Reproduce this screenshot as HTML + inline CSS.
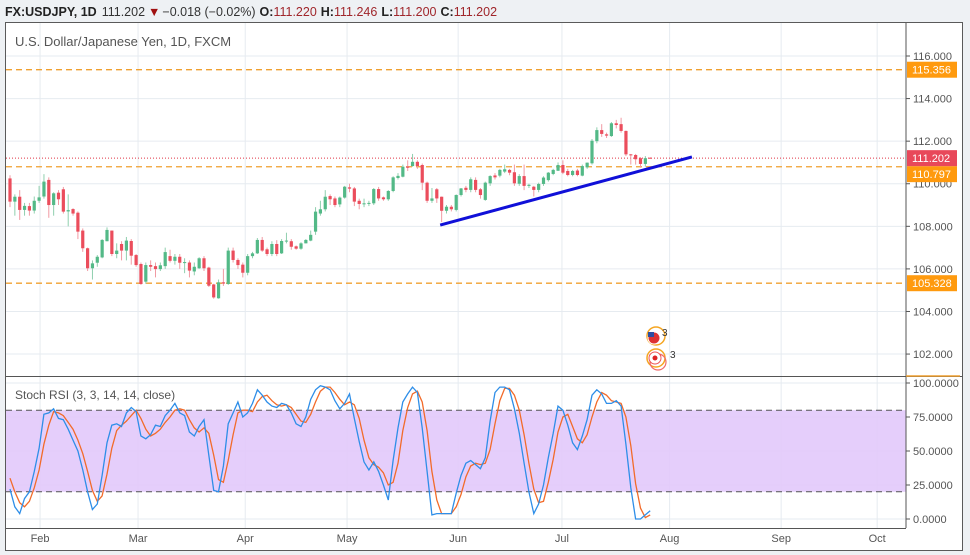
<!DOCTYPE html>
<html><head><meta charset="utf-8"><style>
html,body{margin:0;padding:0;background:#eef1f4;width:970px;height:555px;overflow:hidden;font-family:"Liberation Sans",sans-serif;}
svg{display:block}
</style></head><body>
<svg id="chart" width="970" height="555" viewBox="0 0 970 555" xmlns="http://www.w3.org/2000/svg">
<rect x="0" y="0" width="970" height="555" fill="#eef1f4"/>
<text x="5" y="16" font-size="12.5" font-family="Liberation Sans, sans-serif"><tspan font-weight="bold" fill="#222">FX:USDJPY, 1D</tspan><tspan fill="#333" dx="5">111.202</tspan><tspan fill="#a01010" dx="3">▼</tspan><tspan fill="#333" dx="2">−0.018 (−0.02%)</tspan><tspan font-weight="bold" fill="#222" dx="4">O:</tspan><tspan fill="#a0262b">111.220</tspan><tspan font-weight="bold" fill="#222" dx="4">H:</tspan><tspan fill="#a0262b">111.246</tspan><tspan font-weight="bold" fill="#222" dx="4">L:</tspan><tspan fill="#a0262b">111.200</tspan><tspan font-weight="bold" fill="#222" dx="4">C:</tspan><tspan fill="#a0262b">111.202</tspan></text>
<rect x="5.5" y="22.5" width="957" height="528" fill="#fff" stroke="#5a5a5a"/>
<g id="grid"></g>
<g id="stochfill"></g>
<g id="levels"></g>
<g id="candles"></g>
<g id="stoch"></g>
<g id="axes"></g>
<text x="15" y="46" font-size="13" fill="#555" font-family="Liberation Sans, sans-serif">U.S. Dollar/Japanese Yen, 1D, FXCM</text>
<text x="15" y="399" font-size="12" fill="#555" font-family="Liberation Sans, sans-serif">Stoch RSI (3, 3, 14, 14, close)</text>
<g>
<circle cx="656" cy="336" r="9" fill="none" stroke="#f5a623" stroke-width="1.5"/>
<circle cx="654" cy="338" r="6" fill="#d33" stroke="#fff"/>
<rect x="648" y="332" width="6" height="5" fill="#2d4ea3"/>
<text x="662" y="336" font-size="10" fill="#333">3</text>
<circle cx="656" cy="358" r="9" fill="none" stroke="#f5a623" stroke-width="1.5"/>
<circle cx="658" cy="362" r="8" fill="none" stroke="#f06a6a" stroke-width="1.2"/>
<circle cx="655" cy="358" r="6" fill="#fff" stroke="#e55"/>
<circle cx="655" cy="358" r="2.5" fill="#d22"/>
<text x="670" y="358" font-size="10" fill="#333">3</text>
</g>
</svg>
<script>
const ohlc = [
[110.25,110.4,108.9,109.16],[109.16,109.5,108.5,109.39],[109.39,109.7,108.3,108.77],[108.77,109.1,108.5,108.96],[108.95,109.1,108.5,108.74],
[108.74,109.4,108.6,109.2],[109.2,109.9,109.1,109.36],[109.4,110.45,109.3,110.1],[110.18,110.3,108.4,109.0],[109.0,109.6,108.5,109.55],
[109.58,109.7,109.0,109.27],[109.74,109.85,108.6,108.69],[108.7,109.5,108.0,108.76],[108.81,108.85,108.5,108.6],[108.64,108.7,107.4,107.75],
[107.8,107.9,106.8,106.97],[106.97,107.0,105.9,106.03],[106.03,106.4,105.5,106.26],[106.29,106.65,106.1,106.57],[106.54,107.4,106.5,107.36],
[107.3,107.95,107.3,107.83],[107.8,107.8,106.6,106.7],[106.7,107.2,106.5,106.86],[107.17,107.3,106.4,106.86],[106.86,107.5,106.4,107.33],
[107.31,107.4,106.2,106.62],[106.65,106.7,106.1,106.18],[106.23,106.3,105.25,105.29],[105.4,106.3,105.3,106.18],[106.18,106.4,105.9,106.1],
[106.13,106.3,105.6,105.99],[105.99,106.3,105.9,106.17],[106.13,107.0,106.0,106.79],[106.6,106.9,106.3,106.38],[106.38,106.7,106.2,106.57],
[106.57,106.7,106.0,106.29],[106.3,106.5,105.8,106.32],[106.3,106.4,105.6,105.92],[105.88,106.3,105.7,106.1],[106.03,106.55,106.0,106.5],
[106.5,106.6,105.9,106.03],[106.06,106.1,105.15,105.21],[105.27,105.3,104.6,104.66],[104.62,105.5,104.6,105.37],[105.37,106.0,105.2,105.31],
[105.29,107.0,105.25,106.86],[106.86,107.0,106.3,106.42],[106.42,106.5,106.0,106.18],[106.2,106.3,105.6,105.82],[105.82,106.7,105.7,106.6],
[106.6,106.8,106.5,106.73],[106.73,107.45,106.7,107.36],[107.36,107.5,106.8,106.86],[106.92,107.0,106.6,106.7],[106.7,107.3,106.6,107.17],
[107.17,107.35,106.6,106.7],[106.73,107.4,106.7,107.31],[107.3,107.7,107.2,107.33],[107.3,107.4,106.9,107.04],[107.06,107.1,106.9,106.95],
[106.95,107.25,106.9,107.2],[107.2,107.4,107.2,107.36],[107.33,107.8,107.3,107.6],[107.75,108.9,107.6,108.69],[108.6,109.2,108.5,108.8],
[108.8,109.7,108.7,109.39],[109.42,109.5,109.0,109.27],[109.31,109.4,108.9,109.0],[109.03,109.4,108.9,109.35],[109.35,109.9,109.3,109.86],
[109.83,110.0,109.6,109.77],[109.78,109.85,108.95,109.16],[109.2,109.3,108.8,109.05],[109.05,109.3,108.9,109.08],[109.08,109.2,108.95,109.1],
[109.08,109.8,109.0,109.75],[109.75,109.85,109.2,109.31],[109.36,109.4,109.2,109.27],[109.27,109.7,109.2,109.66],[109.66,110.35,109.6,110.3],
[110.27,110.5,110.2,110.37],[110.33,110.9,110.3,110.8],[110.81,111.1,110.6,110.75],[110.83,111.4,110.8,111.03],[111.03,111.1,110.7,110.83],
[110.88,110.95,109.7,110.05],[110.05,110.1,109.1,109.2],[109.2,109.8,109.1,109.31],[109.74,109.8,109.1,109.31],[109.39,109.4,108.2,108.73],
[108.73,109.0,108.6,108.92],[108.92,109.0,108.7,108.8],[108.77,109.5,108.7,109.47],[109.47,109.8,109.4,109.78],[109.81,109.9,109.6,109.71],
[109.71,110.3,109.6,110.21],[110.18,110.3,109.6,109.71],[109.74,109.8,109.3,109.47],[109.24,110.1,109.2,110.05],[110.02,110.4,109.9,110.36],
[110.39,110.5,110.2,110.3],[110.38,110.7,110.3,110.65],[110.57,110.9,110.5,110.68],[110.65,110.7,110.4,110.52],[110.54,110.9,109.9,110.02],
[110.0,110.45,109.9,110.36],[110.36,110.9,109.7,109.9],[109.9,110.0,109.8,109.95],[109.86,109.9,109.4,109.71],[109.71,110.05,109.6,109.99],
[109.99,110.35,109.9,110.29],[110.17,110.55,110.1,110.52],[110.46,110.7,110.4,110.65],[110.61,111.0,110.6,110.88],[110.88,111.1,110.45,110.52],
[110.6,110.7,110.35,110.41],[110.41,110.65,110.35,110.6],[110.62,110.7,110.35,110.41],[110.38,110.9,110.35,110.83],[110.77,111.0,110.7,110.99],
[110.96,112.1,110.9,112.02],[112.0,112.65,111.9,112.52],[112.52,112.8,112.2,112.34],[112.32,112.4,112.15,112.26],[112.24,112.9,112.2,112.84],
[112.84,113.0,112.6,112.76],[112.8,113.1,112.4,112.48],[112.48,112.5,111.3,111.38],[111.38,111.4,110.9,111.35],[111.35,111.4,110.9,111.15],
[111.2,111.25,110.75,110.93],[110.93,111.3,110.8,111.2],[111.22,111.25,111.2,111.2]
];
const stochK = [22,9,4,15,20,35,52,77,78,81,74,73,66,58,50,36,20,7,11,32,56,69,70,68,78,82,79,61,59,62,69,68,76,80,85,78,76,64,61,68,73,47,21,20,39,70,78,86,75,78,85,95,91,86,83,82,85,84,78,70,68,75,88,95,98,97,95,87,81,85,92,74,57,42,36,42,35,25,14,43,67,86,92,97,93,67,35,3,4,4,4,4,19,32,41,43,40,37,45,72,93,97,97,95,81,63,41,20,4,11,25,45,63,83,80,69,56,51,61,73,91,95,92,85,85,87,83,55,23,0,0,3,6];
const stochD = [30,20,12,9,13,23,36,55,69,79,78,76,71,66,58,48,35,21,13,17,33,52,65,69,72,76,80,74,66,61,63,66,71,75,80,81,80,73,67,64,67,63,47,29,27,43,62,78,80,80,79,86,90,91,87,84,83,84,82,77,72,71,77,86,94,97,97,93,88,84,86,84,74,58,45,40,38,34,25,27,41,65,82,92,94,86,65,35,14,4,4,4,9,18,31,39,41,40,41,51,70,87,96,96,91,80,62,41,22,12,13,27,44,64,75,77,68,59,56,62,75,86,93,91,87,86,85,75,54,26,8,1,3];
const monthLabels = ["Feb","Mar","Apr","May","Jun","Jul","Aug","Sep","Oct"];
const monthIdx = [6.2,26.4,48.5,69.5,92.4,113.8,136,159,178.8];
const priceTicks = [102,104,106,108,110,112,114,116];
const stochTicks = [0,25,50,75,100];
const hLevels = [115.356,110.797,105.328];
const lastPrice = 111.202;
const trendPts = [[88.7,108.06],[140.6,111.26]];

const NS="http://www.w3.org/2000/svg";
const X = i => 10 + i*4.85;
const YP = p => 56 + (116-p)*21.29;
const YS = v => 519 - v*1.36;
function mk(tag, attrs, parent){const e=document.createElementNS(NS,tag);for(const k in attrs)e.setAttribute(k,attrs[k]);parent.appendChild(e);return e;}
const grid=document.getElementById('grid'), levels=document.getElementById('levels'), cg=document.getElementById('candles'), sg=document.getElementById('stoch'), ax=document.getElementById('axes'), sf=document.getElementById('stochfill');

priceTicks.forEach(p=>{const l=mk('line',{x1:6,x2:906,y1:YP(p),y2:YP(p),stroke:'#e6ebf0'},grid);

});
stochTicks.forEach(v=>{const l=mk('line',{x1:6,x2:906,y1:YS(v),y2:YS(v),stroke:'#e6ebf0'},grid);

});
monthIdx.forEach(i=>{const l=mk('line',{x1:X(i),x2:X(i),y1:23,y2:528,stroke:'#e6ebf0'},grid);

});

const band=mk('rect',{x:6,y:YS(80),width:900,height:YS(20)-YS(80),fill:'#e2c9fb','fill-opacity':'0.9'},sf);


[80,20].forEach(v=>{const l=mk('line',{x1:6,x2:906,y1:YS(v),y2:YS(v),stroke:'#555','stroke-dasharray':'6,4'},sf);

});

hLevels.forEach(p=>{const l=mk('line',{x1:6,x2:906,y1:YP(p),y2:YP(p),stroke:'#f0a030','stroke-width':1.3,'stroke-dasharray':'6,4'},levels);

});
const lp=mk('line',{x1:6,x2:906,y1:YP(lastPrice),y2:YP(lastPrice),stroke:'#e03545','stroke-dasharray':'1,2'},levels);



ohlc.forEach((d,i)=>{const [o,h,l,c]=d;const up=c>=o;const col=up?'#53b987':'#eb4d5c';const wc=up?'#8fcfae':'#f19aa3';
const g=mk('g',{},cg);


mk('line',{x1:X(i),x2:X(i),y1:YP(h),y2:YP(l),stroke:wc},g);
const top=YP(Math.max(o,c)),bot=YP(Math.min(o,c));
mk('rect',{x:X(i)-1.6,y:top,width:3.2,height:Math.max(1,bot-top),fill:col},g);});

const tl=mk('line',{x1:X(trendPts[0][0]),y1:YP(trendPts[0][1]),x2:X(trendPts[1][0]),y2:YP(trendPts[1][1]),stroke:'#1010d8','stroke-width':3},levels.parentNode);



function path(arr){return arr.map((v,i)=>(i?'L':'M')+X(i).toFixed(1)+','+YS(v).toFixed(1)).join('');}
const dl=mk('path',{d:path(stochD),fill:'none',stroke:'#f26b2a','stroke-width':1.3},sg);


const kl=mk('path',{d:path(stochK),fill:'none',stroke:'#2e8ee8','stroke-width':1.3},sg);



const pane=mk('line',{x1:906,x2:906,y1:23,y2:528,stroke:'#555'},ax);


const sep=mk('line',{x1:6,x2:962,y1:376.5,y2:376.5,stroke:'#555'},ax);


mk('line',{x1:906,x2:960,y1:376,y2:376,stroke:'#f0a030','stroke-width':1.5},ax);
const bx=mk('line',{x1:6,x2:906,y1:528.5,y2:528.5,stroke:'#555'},ax);


priceTicks.forEach(p=>{mk('line',{x1:906,x2:910,y1:YP(p),y2:YP(p),stroke:'#555'},ax);
const t=mk('text',{x:913,y:YP(p)+4,'font-size':11,fill:'#555'},ax);t.textContent=p.toFixed(3);

});
stochTicks.forEach(v=>{mk('line',{x1:906,x2:910,y1:YS(v),y2:YS(v),stroke:'#555'},ax);
const t=mk('text',{x:913,y:YS(v)+4,'font-size':11,fill:'#555'},ax);t.textContent=v.toFixed(4);

});
monthIdx.forEach((i,k)=>{const t=mk('text',{x:X(i),y:542,'font-size':11,fill:'#555','text-anchor':'middle'},ax);t.textContent=monthLabels[k];

});
// price tags; avoid overlap with last-price tag like the reference
const lastY=YP(lastPrice);
function tag(p,col,name,isLast){let y=YP(p);
if(!isLast && Math.abs(y-lastY)<16){y = y>lastY ? lastY+16 : lastY-16;}
const r=mk('rect',{x:907,y:y-8,width:50,height:16,fill:col},ax);


const t=mk('text',{x:912,y:y+4,'font-size':11,fill:'#fff'},ax);t.textContent=p.toFixed(3);}
hLevels.forEach(p=>tag(p,'#ff9a0e','level-price-tag',false));
tag(lastPrice,'#e8485a','last-price-tag',true);
</script>
</body></html>
